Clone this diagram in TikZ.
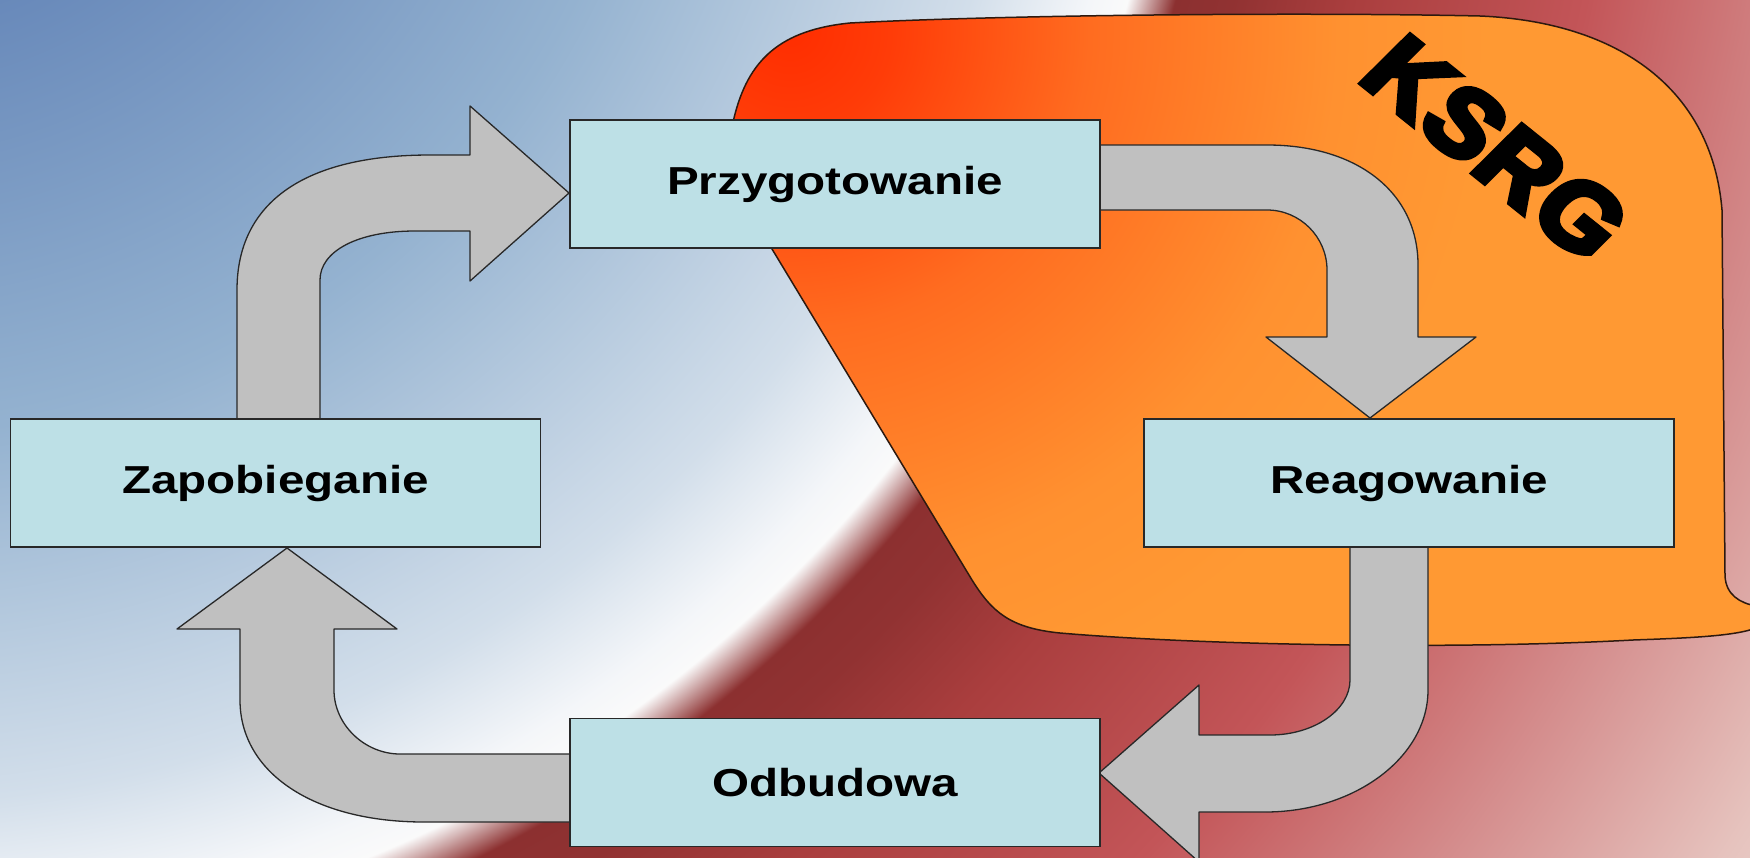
\documentclass[tikz,border=0pt]{standalone}
\usepackage{fontspec}
\setmainfont{Liberation Sans}
\newfontfamily\ksrgfont{Liberation Sans Bold}[FakeBold=6, LetterSpace=2]
\usepackage{graphicx}
\definecolor{bgA}{RGB}{75,108,165}
\definecolor{bgB}{RGB}{104,137,186}
\definecolor{bgC}{RGB}{148,178,208}
\definecolor{bgD}{RGB}{210,222,234}
\definecolor{bgE}{RGB}{244,246,249}
\definecolor{bgF}{RGB}{250,250,250}
\definecolor{bgG}{RGB}{140,48,48}
\definecolor{bgH}{RGB}{145,50,50}
\definecolor{bgI}{RGB}{170,62,62}
\definecolor{bgJ}{RGB}{195,85,88}
\definecolor{bgK}{RGB}{212,140,140}
\definecolor{bgL}{RGB}{230,195,190}
\definecolor{bgM}{RGB}{235,210,205}
\definecolor{orA}{RGB}{255,45,0}
\definecolor{orB}{RGB}{255,60,8}
\definecolor{orC}{RGB}{255,108,32}
\definecolor{orD}{RGB}{255,145,48}
\definecolor{orE}{RGB}{255,153,51}
\definecolor{boxfill}{RGB}{189,224,230}
\definecolor{boxline}{RGB}{40,40,40}
\definecolor{arrowfill}{RGB}{192,192,192}
\definecolor{arrowline}{RGB}{40,40,40}
\definecolor{blobline}{RGB}{45,25,15}
\pgfdeclareradialshading{bgshade}{\pgfpoint{0bp}{0bp}}{color(0bp)=(bgA); color(4bp)=(bgB); color(8.5bp)=(bgC); color(12.5bp)=(bgD); color(13.75bp)=(bgE); color(14.15bp)=(bgF); color(14.65bp)=(bgG); color(15.25bp)=(bgH); color(16.5bp)=(bgI); color(19bp)=(bgJ); color(21.5bp)=(bgK); color(24bp)=(bgL); color(25bp)=(bgM); color(50bp)=(bgM)}
\pgfdeclareradialshading{blobshade}{\pgfpoint{0bp}{0bp}}{color(0bp)=(orA); color(1.8bp)=(orB); color(5.35bp)=(orC); color(9.8bp)=(orD); color(12.5bp)=(orE); color(50bp)=(orE)}
\newcommand\widetext[1]{\scalebox{1.22}[1]{#1}}
\tikzset{
  box/.style={draw=boxline, line width=1.5pt, fill=boxfill, minimum width=530pt, minimum height=128pt, inner sep=0pt, font=\fontsize{39}{45}\selectfont\bfseries},
  arrowshape/.style={draw=arrowline, line width=1.3pt, fill=arrowfill, line join=round},
  blobedge/.style={draw=blobline, line width=1.5pt}
}
\begin{document}
\begin{tikzpicture}[x=1pt,y=-1pt]
\useasboundingbox (0,0) rectangle (1750,857);
% background
\begin{scope}
\clip (0,0) rectangle (1750,857);
\shade[shading=bgshade] (-127,-347) circle (2300pt);
\end{scope}
% orange KSRG area
\begin{scope}
\clip (734,118) .. controls (748,60) and (780,30) .. (850,23)
  .. controls (1000,15) and (1300,12) .. (1480,16)
  .. controls (1620,22) and (1712,90) .. (1722,210)
  -- (1725,576) .. controls (1726,595) and (1740,603) .. (1756,606)
  -- (1756,628) .. controls (1735,636) and (1690,638) .. (1633,640)
  .. controls (1450,650) and (1200,645) .. (1060,633)
  .. controls (1010,628) and (992,612) .. (972,580)
  -- (772,249) .. controls (750,205) and (730,160) .. (734,118) -- cycle;
\shade[shading=blobshade] (790,30) circle (1400pt);
\end{scope}
\draw[blobedge] (734,118) .. controls (748,60) and (780,30) .. (850,23)
  .. controls (1000,15) and (1300,12) .. (1480,16)
  .. controls (1620,22) and (1712,90) .. (1722,210)
  -- (1725,576) .. controls (1726,595) and (1740,603) .. (1756,606)
  -- (1756,628) .. controls (1735,636) and (1690,638) .. (1633,640)
  .. controls (1450,650) and (1200,645) .. (1060,633)
  .. controls (1010,628) and (992,612) .. (972,580)
  -- (772,249) .. controls (750,205) and (730,160) .. (734,118) -- cycle;
% KSRG label
\begin{scope}[shift={(1496,148)}, xscale=1.12]
\node[rotate=-42, transform shape, inner sep=0pt, font=\fontsize{94}{100}\selectfont\ksrgfont] (ksrg) at (0,0) {KSRG};
\end{scope}
% block arrows
\draw[arrowshape] (237,425) -- (237,290) .. controls (237,202) and (305,155) .. (430,155)
  -- (470,155) -- (470,106) -- (569,193) -- (470,281) -- (470,231) -- (415,231)
  .. controls (358,231) and (320,251) .. (320,280) -- (320,425) -- cycle;
\draw[arrowshape] (1094,145) -- (1267,145) .. controls (1358,145) and (1418,193) .. (1418,265)
  -- (1418,337) -- (1476,337) -- (1370,418) -- (1266,337) -- (1327,337) -- (1327,270)
  .. controls (1327,237) and (1300,210) .. (1267,210) -- (1094,210) -- cycle;
\draw[arrowshape] (1350,542) -- (1350,680) .. controls (1350,710) and (1314,735) .. (1270,735)
  -- (1199,735) -- (1199,685) -- (1099,773) -- (1199,862) -- (1199,812) -- (1265,812)
  .. controls (1355,812) and (1428,757) .. (1428,690) -- (1428,542) -- cycle;
\draw[arrowshape] (577,754) -- (400,754) .. controls (365,754) and (334,725) .. (334,690)
  -- (334,629) -- (397,629) -- (287,548) -- (177,629) -- (240,629) -- (240,700)
  .. controls (240,773) and (314,822) .. (424,822) -- (577,822) -- cycle;
% boxes
\node[box] (przyg) at (835,184) {\widetext{Przygotowanie}};
\node[box] (zap) at (275.5,483) {\widetext{Zapobieganie}};
\node[box] (reag) at (1409,483) {\widetext{Reagowanie}};
\node[box] (odb) at (835,782.5) {\widetext{Odbudowa}};
\end{tikzpicture}
\end{document}
